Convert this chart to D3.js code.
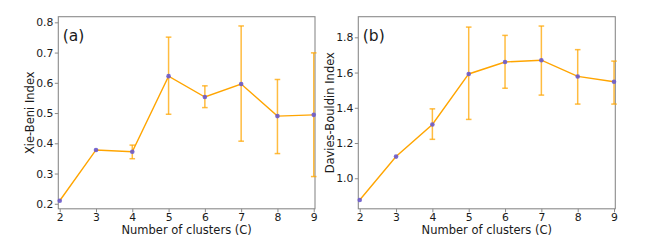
<!DOCTYPE html>
<html><head><meta charset="utf-8">
<script src="https://cdn.jsdelivr.net/npm/d3@7"></script>
<style>body{margin:0;background:#fff}svg{display:block}text{font-family:"DejaVu Sans",sans-serif;fill:#1a1a1a}</style>
</head><body><svg id="c" width="656" height="243"></svg>
<script>
// Data
const clusters = [2, 3, 4, 5, 6, 7, 8, 9];
const xbValue = [0.210, 0.378, 0.372, 0.622, 0.553, 0.596, 0.490, 0.494];
const xbLower = [0.210, 0.377, 0.349, 0.496, 0.518, 0.407, 0.366, 0.290];
const xbUpper = [0.210, 0.379, 0.394, 0.751, 0.590, 0.788, 0.611, 0.699];
const dbValue = [0.877, 1.123, 1.305, 1.592, 1.660, 1.670, 1.578, 1.548];
const dbLower = [0.877, 1.123, 1.221, 1.334, 1.511, 1.472, 1.421, 1.421];
const dbUpper = [0.877, 1.123, 1.394, 1.858, 1.811, 1.864, 1.730, 1.665];
const xbTicks = [0.2, 0.3, 0.4, 0.5, 0.6, 0.7, 0.8];
const dbTicks = [1.0, 1.2, 1.4, 1.6, 1.8];
const xLabel = "Number of clusters (C)";

const svg = d3.select("#c");
const frameColor = "#8a8a8a";

function panel(o) {
  const g = svg.append("g");
  const x = d3.scaleLinear().domain([1.961, 9.035]).range([o.left, o.right]);
  const y = d3.scaleLinear().domain(o.ydom).range([o.bottom, o.top]);

  // axes
  const ax = d3.axisBottom(x).tickValues(clusters).tickFormat(d3.format("d")).tickSize(3.5).tickPadding(1);
  const gx = g.append("g").attr("transform", `translate(0,${o.bottom})`).call(ax);
  const ay = d3.axisLeft(y).tickValues(o.ticks).tickFormat(d3.format(".1f")).tickSize(3.5).tickPadding(1.5);
  const gy = g.append("g").attr("transform", `translate(${o.left},0)`).call(ay);
  [gx, gy].forEach(a => {
    a.select(".domain").remove();
    a.selectAll(".tick line").attr("stroke", frameColor).attr("stroke-width", 1);
    a.selectAll(".tick text").style("font-size", "10.8px").attr("fill", "#1a1a1a");
  });
  gx.selectAll(".tick text").attr("dy", "0.72em");

  // frame
  g.append("rect").attr("x", o.left).attr("y", o.top)
    .attr("width", o.right - o.left).attr("height", o.bottom - o.top)
    .attr("fill", "none").attr("stroke", frameColor).attr("stroke-width", 1.1);

  // error bars
  const eb = g.append("g").attr("stroke", "#ffa500").attr("stroke-opacity", 0.75).attr("stroke-width", 1.5);
  clusters.forEach((c, i) => {
    if (o.upper[i] - o.lower[i] < 0.004) return;
    const cx = x(c);
    eb.append("line").attr("x1", cx).attr("x2", cx).attr("y1", y(o.lower[i])).attr("y2", y(o.upper[i]));
    [o.lower[i], o.upper[i]].forEach(v =>
      eb.append("line").attr("x1", cx - 2.8).attr("x2", cx + 2.8).attr("y1", y(v)).attr("y2", y(v)));
  });

  // line
  g.append("path").datum(clusters.map((c, i) => [c, o.values[i]]))
    .attr("d", d3.line().x(d => x(d[0])).y(d => y(d[1])))
    .attr("fill", "none").attr("stroke", "#ffa500").attr("stroke-width", 1.4);

  // markers
  g.selectAll("circle.m").data(clusters.map((c, i) => [c, o.values[i]])).join("circle")
    .attr("cx", d => x(d[0])).attr("cy", d => y(d[1])).attr("r", 2.3)
    .attr("fill", "#6a5acd").attr("fill-opacity", 0.9);

  // labels
  g.append("text").attr("x", (o.left + o.right) / 2).attr("y", 234.2)
    .attr("text-anchor", "middle").style("font-size", "11.5px").text(xLabel);
  g.append("text").attr("transform", `translate(${o.ylabX},${(o.top + o.bottom) / 2}) rotate(-90)`)
    .attr("text-anchor", "middle").attr("dy", "0.36em").style("font-size", "11.5px").text(o.ylabel);
  g.append("text").attr("x", o.left + 4.5).attr("y", 40.5).style("font-size", "15.5px").text(o.tag);
}

panel({left: 58.3, right: 315, top: 16.7, bottom: 208.8, ydom: [0.1834, 0.8186], ticks: xbTicks,
  values: xbValue, lower: xbLower, upper: xbUpper, ylabel: "Xie-Beni Index", ylabX: 30, tag: "(a)"});
panel({left: 358.3, right: 615.3, top: 16.7, bottom: 208.8, ydom: [0.8267, 1.917], ticks: dbTicks,
  values: dbValue, lower: dbLower, upper: dbUpper, ylabel: "Davies-Bouldin Index", ylabX: 329.5, tag: "(b)"});
</script></body></html>
